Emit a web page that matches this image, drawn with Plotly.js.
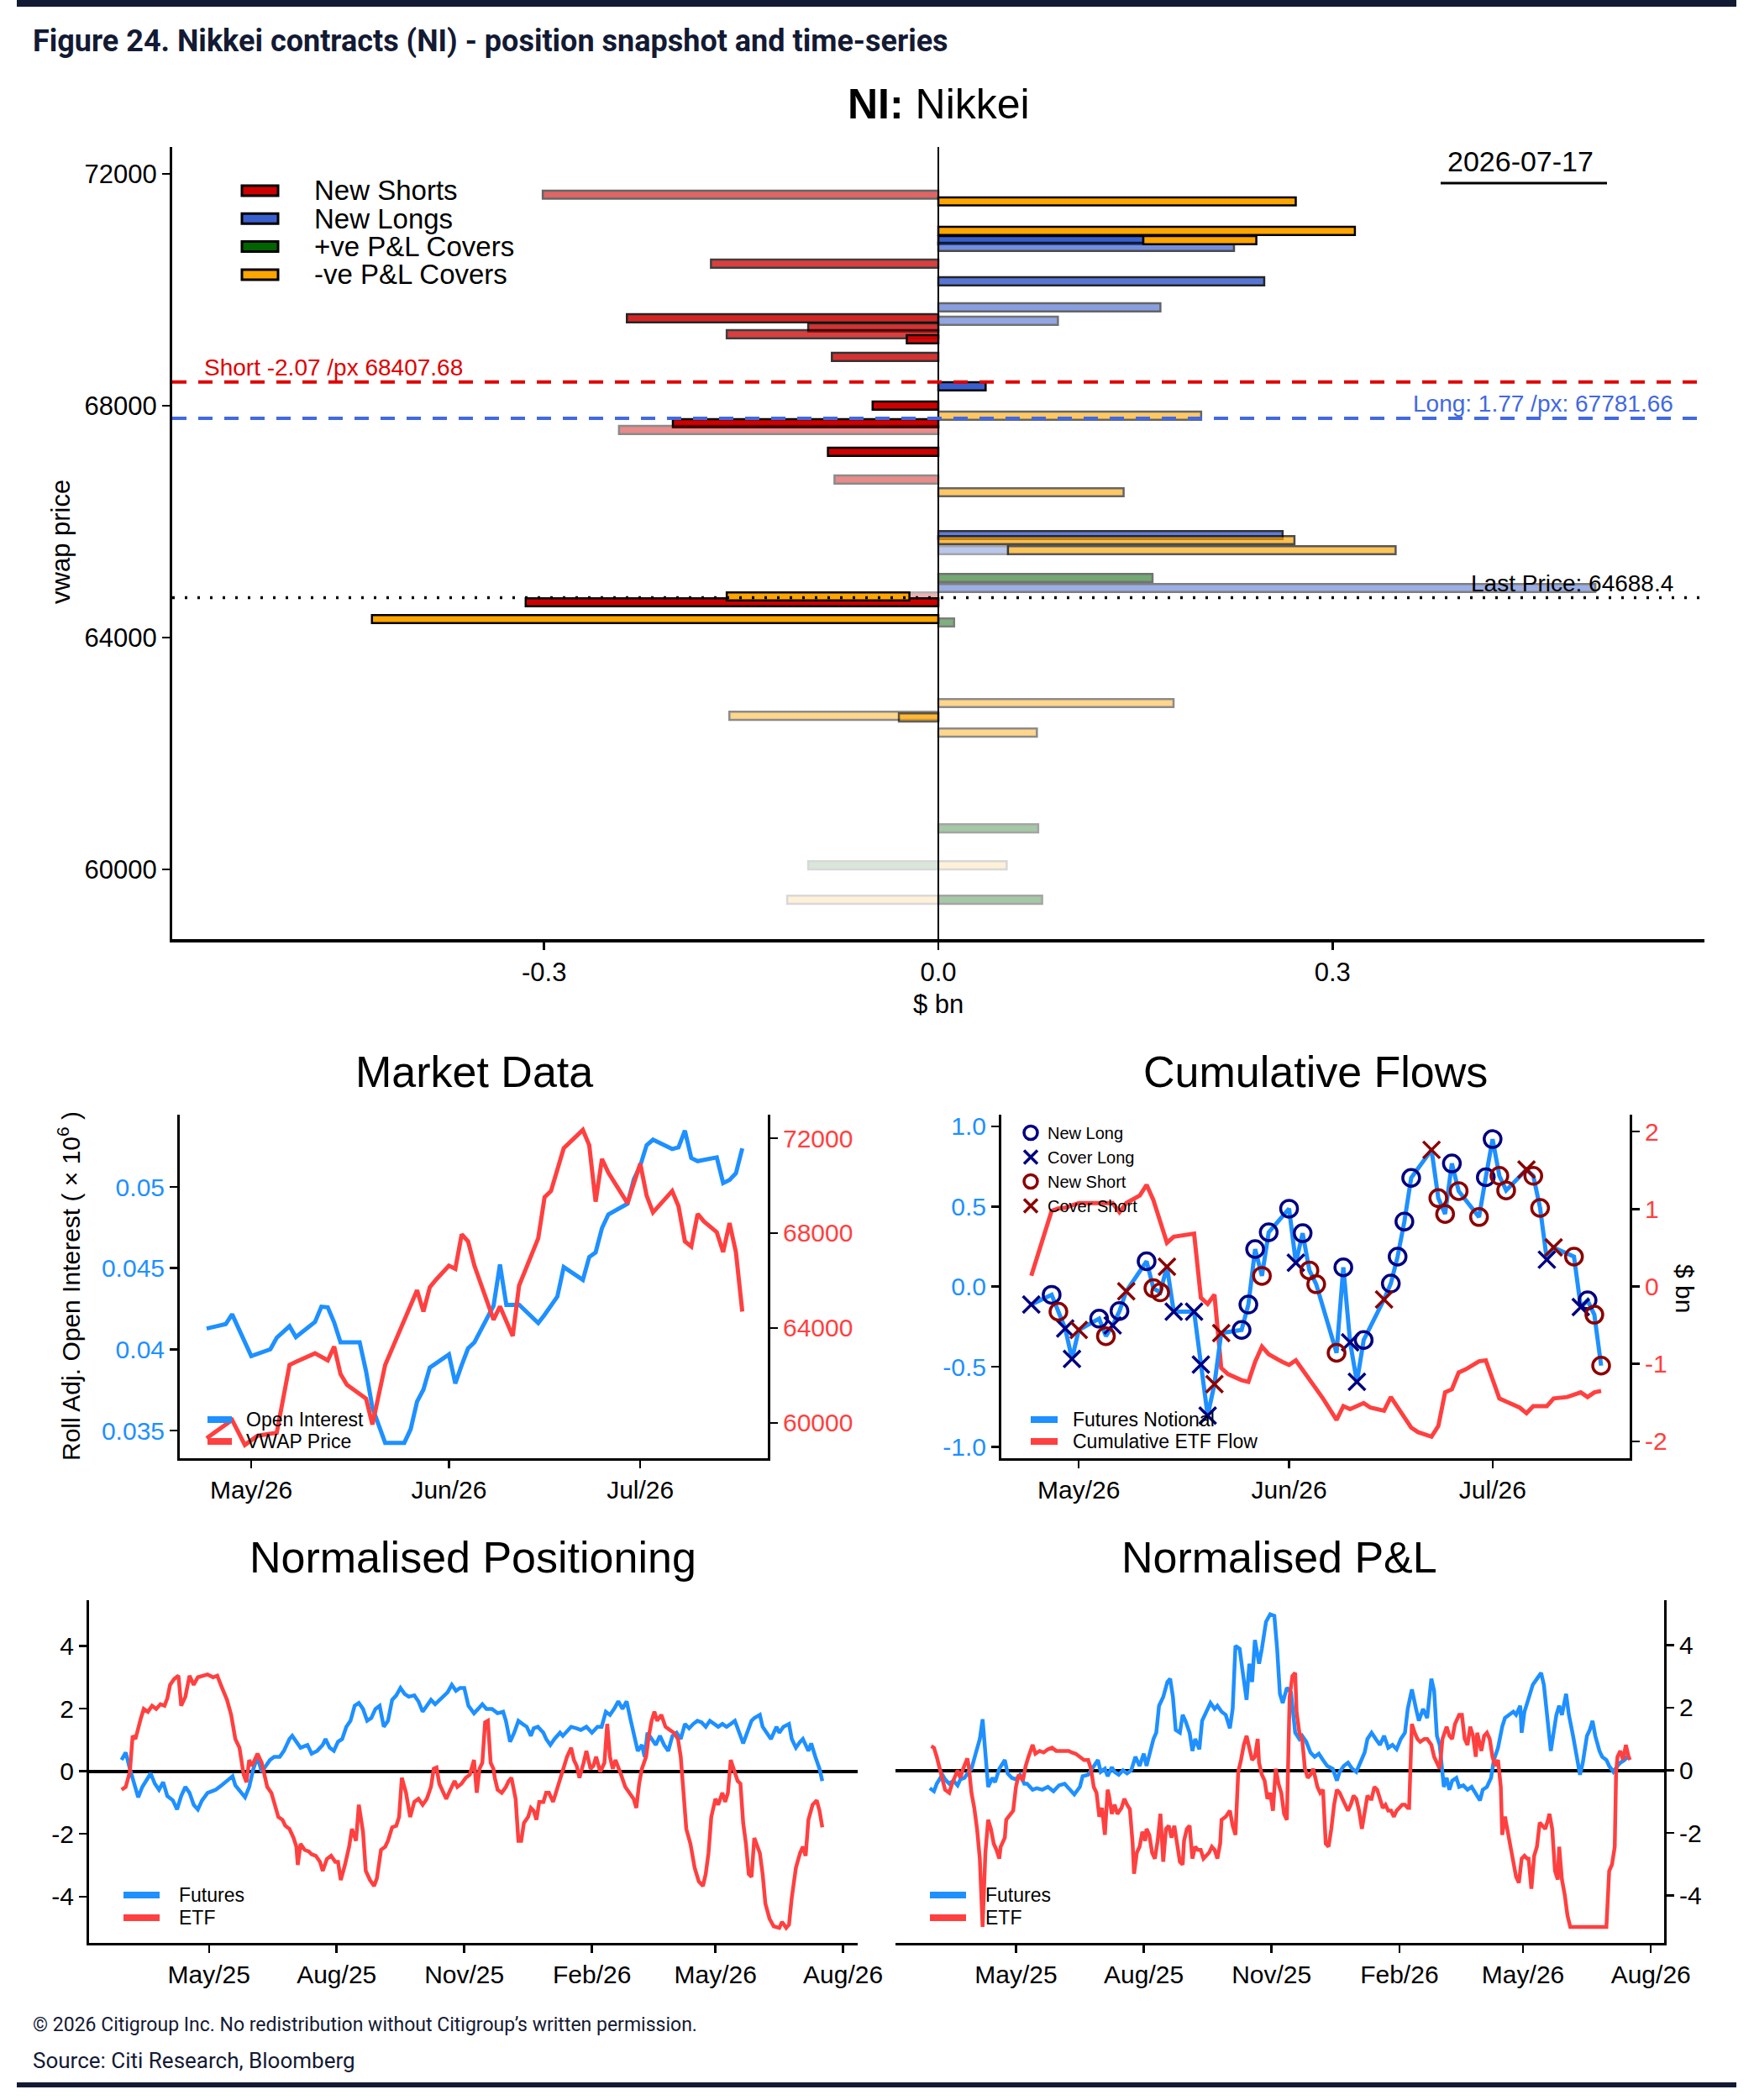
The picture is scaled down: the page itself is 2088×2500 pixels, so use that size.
<!DOCTYPE html>
<html><head><meta charset="utf-8">
<script src="https://cdn.plot.ly/plotly-3.0.1.min.js"></script>
<style>html,body{margin:0;padding:0;background:#fff}#chart{width:2088px;height:2500px}</style>
</head><body><div id="chart"></div>
<script>
// ---------------- DATA ----------------
// Position snapshot (NI: Nikkei)
const snapDate = '2026-07-17';
const shortSize = -2.07, shortPx = 68407.68;
const longSize = 1.77, longPx = 67781.66;
const lastPx = 64688.4;
const barCats = ['NS','NL','PC','NC'];
const barCatNames = ['New Shorts','New Longs','+ve P&amp;L Covers','-ve P&amp;L Covers'];
const barType  = ['NS','NS','NS','NS','NS','NS','NS','NS','NS','NS','NS','NS','NS','NS',
                  'NL','NL','NL','NL','NL','NL','NL','NL','NL',
                  'PC','PC','PC','PC','PC',
                  'NC','NC','NC','NC','NC','NC','NC','NC','NC','NC','NC','NC','NC','NC','NC'];
const barPrice = [71638,70449,69507,69348,69232,69145,68840,68000,67696,67580,67203,66725,64710,64609,
                  70855,70739,70145,69696,69464,68333,65768,65507,64855,
                  65029,64261,60710,60072,59478,
                  71522,71014,70855,67826,66507,65681,65507,64710,64319,62870,62652,62623,62362,60072,59478];
const barBase  = [0,0,0,0,0,0,0,0,0,0,0,0,0,0,
                  0,0,0,0,0,0,0,0,0,
                  0,0,0,0,0,
                  0,0,0.156,0,0,0,0.053,-0.022,0,0,0,0,0,0,0];
const barSize  = [-0.301,-0.173,-0.237,-0.099,-0.161,-0.024,-0.081,-0.050,-0.202,-0.243,-0.084,-0.079,-0.022,-0.314,
                  0.156,0.225,0.248,0.169,0.091,0.036,0.262,0.053,0.50,
                  0.163,0.012,0.076,-0.099,0.079,
                  0.272,0.317,0.086,0.200,0.141,0.271,0.295,-0.139,-0.431,0.179,-0.159,-0.030,0.075,0.052,-0.115];
const barAlpha = [0.6,0.75,0.85,0.8,0.75,0.95,0.8,1,1,0.45,1,0.45,0.3,1,
                  1,0.7,0.85,0.6,0.55,1,0.8,0.35,0.5,
                  0.55,0.5,0.35,0.15,0.35,
                  1,1,1,0.6,0.6,0.7,0.65,1,1,0.45,0.45,0.6,0.45,0.15,0.15];

// Market data
const oiDate = ['2026-04-24','2026-04-27','2026-04-28','2026-04-29','2026-05-01','2026-05-04','2026-05-05','2026-05-07','2026-05-08','2026-05-11','2026-05-12','2026-05-13','2026-05-14','2026-05-15','2026-05-18','2026-05-19','2026-05-20','2026-05-22','2026-05-25','2026-05-26','2026-05-27','2026-05-28','2026-05-29','2026-06-01','2026-06-02','2026-06-03','2026-06-04','2026-06-05','2026-06-07','2026-06-08','2026-06-09','2026-06-10','2026-06-12','2026-06-15','2026-06-16','2026-06-18','2026-06-19','2026-06-22','2026-06-23','2026-06-24','2026-06-25','2026-06-26','2026-06-29','2026-06-30','2026-07-01','2026-07-02','2026-07-03','2026-07-06','2026-07-07','2026-07-08','2026-07-09','2026-07-10','2026-07-13','2026-07-14','2026-07-15','2026-07-16','2026-07-17'];
const oiVal = [0.04128,0.04156,0.04216,0.04128,0.03959,0.04001,0.04072,0.04143,0.04076,0.04169,0.04263,0.04259,0.04166,0.04044,0.04044,0.03866,0.03641,0.03425,0.03425,0.03509,0.03678,0.03753,0.03888,0.03969,0.03791,0.03903,0.04006,0.04044,0.04203,0.04269,0.04522,0.04274,0.04275,0.04162,0.04213,0.04325,0.04507,0.04428,0.04569,0.04597,0.04747,0.04831,0.04897,0.05047,0.05131,0.05257,0.05291,0.05234,0.05244,0.05347,0.05178,0.05159,0.05182,0.05024,0.05043,0.05084,0.05238];
const vwapDate = ['2026-04-24','2026-04-28','2026-04-30','2026-05-02','2026-05-05','2026-05-07','2026-05-08','2026-05-11','2026-05-13','2026-05-14','2026-05-15','2026-05-16','2026-05-19','2026-05-20','2026-05-22','2026-05-24','2026-05-27','2026-05-28','2026-05-29','2026-05-30','2026-06-01','2026-06-02','2026-06-03','2026-06-04','2026-06-05','2026-06-08','2026-06-09','2026-06-11','2026-06-12','2026-06-15','2026-06-16','2026-06-17','2026-06-19','2026-06-22','2026-06-23','2026-06-24','2026-06-25','2026-06-26','2026-06-29','2026-07-01','2026-07-02','2026-07-03','2026-07-06','2026-07-07','2026-07-08','2026-07-09','2026-07-10','2026-07-11','2026-07-13','2026-07-14','2026-07-15','2026-07-16','2026-07-17'];
const vwapVal = [59357,60128,59074,59460,59588,62444,62572,62932,62636,63215,62058,61607,61029,59935,62444,63730,65595,64694,65723,66045,66624,66495,67948,67653,66624,64347,64913,63665,65788,67781,69518,69775,71576,72347,71704,69325,71125,70547,69260,70932,69582,68874,69775,69132,67653,67434,68810,68489,68038,67202,68424,67202,64694];

// Cumulative flows
const flowDate = ['2026-04-24','2026-04-27','2026-04-28','2026-04-29','2026-04-30','2026-05-01','2026-05-04','2026-05-05','2026-05-06','2026-05-07','2026-05-08','2026-05-11','2026-05-12','2026-05-13','2026-05-14','2026-05-15','2026-05-18','2026-05-19','2026-05-20','2026-05-21','2026-05-22','2026-05-25','2026-05-26','2026-05-27','2026-05-28','2026-05-29','2026-06-01','2026-06-02','2026-06-03','2026-06-04','2026-06-05','2026-06-08','2026-06-09','2026-06-10','2026-06-11','2026-06-12','2026-06-15','2026-06-16','2026-06-17','2026-06-18','2026-06-19','2026-06-22','2026-06-23','2026-06-24','2026-06-25','2026-06-26','2026-06-29','2026-06-30','2026-07-01','2026-07-02','2026-07-03','2026-07-06','2026-07-07','2026-07-08','2026-07-09','2026-07-10','2026-07-13','2026-07-14','2026-07-15','2026-07-16','2026-07-17'];
const flowVal = [-0.112,-0.051,-0.156,-0.261,-0.451,-0.27,-0.20,-0.309,-0.242,-0.152,-0.029,0.158,-0.01,-0.036,0.124,-0.156,-0.156,-0.486,-0.804,-0.608,-0.29,-0.27,-0.112,0.234,0.067,0.339,0.486,0.149,0.333,0.101,0.015,-0.413,0.12,-0.347,-0.594,-0.333,-0.08,0.019,0.187,0.406,0.678,0.853,0.552,0.453,0.768,0.596,0.434,0.682,0.92,0.691,0.60,0.73,0.691,0.491,0.168,0.244,0.187,-0.128,-0.086,-0.175,-0.493];
const flowType = ['CL','NL','NS','CL','CL','CS','NL','NS','CL','NL','CS','NL','NS','NS','CS','CL','CL','CL','CL','CS','CS','NL','NL','NL','NS','NL','NL','CL','NL','NS','NS','NS','NL','CL','CL','NL','CS','NL','NL','NL','NL','CS','NS','NS','NL','NS','NS','NL','NL','NS','NS','CS','NS','NS','CL','CS','NS','CL','NL','NS','NS'];
const etfDate = ['2026-04-24','2026-04-27','2026-04-28','2026-04-29','2026-05-01','2026-05-04','2026-05-06','2026-05-07','2026-05-08','2026-05-10','2026-05-11','2026-05-12','2026-05-14','2026-05-15','2026-05-18','2026-05-19','2026-05-20','2026-05-21','2026-05-22','2026-05-23','2026-05-25','2026-05-26','2026-05-27','2026-05-28','2026-05-29','2026-05-31','2026-06-01','2026-06-02','2026-06-04','2026-06-06','2026-06-08','2026-06-09','2026-06-10','2026-06-12','2026-06-13','2026-06-15','2026-06-16','2026-06-17','2026-06-19','2026-06-20','2026-06-22','2026-06-23','2026-06-24','2026-06-25','2026-06-26','2026-06-27','2026-06-29','2026-06-30','2026-07-01','2026-07-02','2026-07-03','2026-07-05','2026-07-06','2026-07-07','2026-07-09','2026-07-10','2026-07-12','2026-07-13','2026-07-14','2026-07-15','2026-07-16','2026-07-17'];
const etfVal = [0.138,0.977,1.005,1.017,1.076,1.076,1.076,0.958,1.076,1.174,1.312,1.115,0.564,0.642,0.682,-0.146,-0.225,-0.106,-1.052,-1.131,-1.21,-1.23,-0.973,-0.776,-0.875,-0.973,-1.013,-0.954,-1.19,-1.446,-1.722,-1.545,-1.584,-1.505,-1.564,-1.604,-1.427,-1.564,-1.821,-1.88,-1.939,-1.801,-1.367,-1.328,-1.111,-1.072,-0.966,-0.954,-1.21,-1.446,-1.486,-1.564,-1.635,-1.545,-1.545,-1.446,-1.427,-1.399,-1.367,-1.427,-1.367,-1.348];

// Normalised positioning / P&L : day offsets from 2025-05-01
const dayZero = '2025-05-01';
const posDayF = [-63,-60,-57,-54,-51,-48,-45,-42,-39,-36,-33,-30,-26,-23,-20,-17,-14,-11,-8,-5,-1,5,9,13,17,19,23,26,29,32,35,38,41,44,47,51,54,58,60,63,66,71,74,78,82,84,87,90,93,96,99,102,105,108,111,114,117,120,123,126,129,132,135,138,141,144,148,151,154,157,160,163,166,169,172,175,178,181,184,187,191,194,197,200,204,208,212,214,217,220,223,226,229,232,234,237,241,243,246,249,253,255,259,261,265,268,272,276,280,283,286,289,292,295,298,301,304,307,309,312,314,316,319,322,325,328,331,334,337,340,343,346,349,352,355,358,361,364,367,370,373,376,379,381,385,387,391,393,397,399,403,405,409,411,414,418,420,423,426,428,432,434,437,440,442];
const posFut = [0.36,0.60,0.08,-0.40,-0.83,-0.50,-0.31,-0.07,-0.40,-0.59,-0.35,-0.79,-0.93,-1.22,-0.79,-0.50,-0.69,-1.07,-1.22,-0.93,-0.69,-0.59,-0.45,-0.31,-0.16,-0.45,-0.69,-0.83,-0.50,0.08,0.46,-0.02,0.17,0.36,0.46,0.46,0.65,1.03,1.13,0.94,0.75,0.84,0.56,0.65,0.84,1.03,0.75,0.65,0.94,1.03,1.42,1.61,2.09,2.18,1.99,1.61,1.70,1.99,2.09,1.42,1.61,2.28,2.42,2.66,2.47,2.38,2.42,2.23,1.90,2.09,2.28,2.14,2.28,2.42,2.52,2.76,2.57,2.66,2.66,2.09,1.85,1.99,2.14,1.99,1.99,1.85,1.90,1.61,0.94,1.23,1.61,1.51,1.42,1.13,1.37,1.42,1.23,1.03,0.84,1.03,1.23,1.13,1.32,1.42,1.37,1.32,1.42,1.23,1.42,1.42,1.90,1.80,1.99,2.23,1.99,2.23,1.61,1.03,0.65,0.84,0.46,1.23,1.03,0.84,1.13,0.84,0.65,1.13,1.23,1.03,1.51,1.37,1.51,1.61,1.56,1.42,1.61,1.51,1.42,1.51,1.42,1.51,1.61,1.37,0.89,1.13,1.61,1.70,1.80,1.42,1.13,1.03,1.42,1.23,1.42,1.51,1.03,0.75,0.94,1.03,0.65,0.89,0.46,0.08,-0.31];
const posDayE = [-63,-60,-57,-55,-53,-51,-49,-47,-44,-41,-38,-35,-32,-30,-28,-25,-22,-20,-17,-14,-11,-8,-5,-1,3,6,9,13,16,19,22,25,27,29,31,35,38,39,42,45,47,50,53,55,58,61,63,64,66,69,72,74,77,80,82,85,88,91,93,95,98,101,103,106,108,111,113,116,119,121,124,127,129,132,135,137,139,142,145,148,151,154,157,160,162,164,166,169,171,174,177,179,182,185,188,191,193,195,197,199,201,203,205,206,208,211,214,216,218,221,223,225,227,230,232,234,236,238,241,243,245,248,250,253,255,258,261,263,265,267,270,272,275,277,279,282,285,287,289,291,293,295,297,300,303,306,308,310,312,315,317,319,321,323,326,329,332,335,338,340,342,344,347,350,353,356,358,360,362,365,367,370,372,374,376,378,381,383,385,387,389,391,393,397,399,401,404,407,411,413,416,418,420,423,426,428,430,432,435,438,440,442];
const posEtf = [-0.59,-0.50,-0.02,1.13,1.03,1.42,1.70,1.99,1.90,2.09,1.99,2.14,2.09,2.33,2.76,2.95,3.05,2.09,2.38,3.05,2.76,3.00,3.05,3.09,3.00,3.05,2.71,2.28,1.80,1.03,0.75,-0.11,-0.35,0.36,0.17,0.56,0.27,0.08,-0.50,-0.69,-0.98,-1.46,-1.55,-1.74,-1.84,-2.13,-2.41,-2.99,-2.32,-2.51,-2.56,-2.65,-2.70,-2.89,-3.18,-2.80,-2.70,-2.89,-2.89,-3.47,-2.99,-2.41,-1.84,-2.22,-1.07,-1.93,-3.18,-3.47,-3.66,-3.42,-2.51,-2.41,-2.22,-1.79,-1.74,-1.46,-0.21,-0.69,-1.46,-0.98,-0.88,-1.07,-0.88,-0.50,0.08,0.12,-0.40,-0.69,-0.88,-0.59,-0.31,-0.50,-0.40,-0.21,-0.11,0.36,-0.69,0.08,0.27,1.56,1.61,0.27,0.08,-0.21,-0.59,-0.69,-0.50,-0.31,-0.21,-0.88,-2.22,-2.22,-1.65,-1.46,-1.17,-1.26,-1.55,-0.98,-0.98,-0.69,-0.69,-0.98,-0.69,-0.21,-0.02,0.46,0.75,0.36,0.17,-0.21,0.27,0.65,0.08,0.17,0.46,-0.02,0.27,1.51,0.46,0.08,0.36,0.08,-0.11,-0.50,-0.69,-0.88,-1.17,-0.40,0.08,0.46,1.13,1.61,1.90,1.61,1.80,1.42,1.32,1.23,1.03,0.46,-0.69,-1.84,-2.32,-3.08,-3.52,-3.66,-3.28,-2.61,-1.46,-0.88,-1.07,-0.69,-0.98,-0.69,0.36,0.08,-0.31,-0.40,-1.65,-2.32,-3.28,-3.37,-2.13,-2.61,-3.28,-4.23,-4.71,-4.95,-5.00,-4.81,-5.00,-4.90,-4.04,-3.08,-2.61,-2.41,-2.70,-1.55,-1.07,-0.93,-1.26,-1.79];
const pnlDayF = [-62,-59,-57,-53,-51,-48,-45,-42,-40,-37,-35,-32,-29,-26,-24,-22,-20,-17,-15,-12,-8,-6,-3,0,3,6,8,12,15,19,23,27,31,35,39,42,46,48,52,56,59,61,64,66,69,71,74,77,80,83,86,89,92,94,97,99,101,103,106,109,111,113,115,118,120,122,125,127,129,132,134,137,140,143,145,148,151,154,156,158,161,163,166,168,170,172,175,177,180,183,186,188,190,192,195,198,201,204,206,209,212,215,218,221,224,228,231,233,236,239,242,245,248,251,253,256,259,262,265,268,271,274,277,280,282,285,288,290,293,296,299,301,303,305,308,310,312,314,317,319,322,325,328,331,334,336,339,342,344,347,350,352,355,358,360,363,364,366,368,370,372,375,378,380,383,385,387,389,391,393,396,398,401,404,406,408,411,413,415,417,420,422,425,427,430,433,435,438,440,442];
const pnlFut = [-0.57,-0.67,-0.43,-0.14,-0.29,-0.43,-0.33,-0.48,-0.29,-0.24,-0.10,0.05,0.53,1.00,1.63,0.53,-0.53,-0.24,-0.38,0.05,0.33,-0.10,-0.24,-0.29,-0.14,-0.43,-0.43,-0.62,-0.57,-0.62,-0.53,-0.67,-0.48,-0.43,-0.62,-0.77,-0.53,-0.19,-0.14,0.10,0.33,-0.05,0.05,-0.19,0.10,-0.05,-0.14,0.00,-0.10,0.00,0.43,0.14,0.53,0.14,0.62,1.00,1.20,2.06,2.34,2.82,2.92,2.34,1.29,1.20,1.77,1.58,1.20,0.62,1.00,0.67,1.58,1.87,2.15,1.96,2.06,1.87,1.77,1.34,1.96,3.97,3.88,3.21,2.25,3.40,2.82,4.16,3.40,3.88,4.74,4.98,4.93,3.88,2.44,2.15,2.63,2.49,1.20,1.00,1.10,0.91,0.57,0.43,0.53,0.33,0.14,0.05,-0.33,-0.05,0.14,0.24,0.05,-0.05,0.24,0.57,1.00,1.20,1.00,0.81,1.10,0.72,0.81,0.67,1.00,1.20,1.96,2.58,1.96,1.58,1.96,1.67,2.92,2.54,1.10,0.81,-0.53,-0.24,-0.62,-0.33,-0.24,-0.53,-0.48,-0.62,-0.53,-0.72,-0.96,-0.62,-0.53,-0.24,0.33,0.72,1.39,1.67,1.77,1.87,1.77,2.06,1.20,1.87,2.15,2.44,2.73,2.92,3.11,2.73,1.58,0.62,1.20,1.77,2.06,1.77,2.44,1.77,1.10,0.43,-0.14,0.24,1.10,1.29,1.58,1.10,0.62,0.43,0.33,0.14,-0.05,0.14,0.24,0.33,0.43,0.38];
const pnlDayE = [-61,-59,-57,-54,-51,-48,-46,-42,-40,-38,-35,-34,-32,-30,-28,-26,-24,-22,-20,-18,-16,-14,-12,-11,-8,-7,-5,-2,0,2,5,7,9,12,14,17,20,23,26,29,32,35,38,40,43,46,49,52,54,56,58,60,62,64,66,67,69,71,73,76,78,80,82,84,85,87,89,91,93,94,96,98,100,102,104,106,108,110,112,114,116,118,120,121,123,125,127,129,131,133,135,137,139,141,143,145,147,148,151,154,156,158,160,162,164,166,168,170,172,174,175,177,179,181,183,185,187,189,191,193,195,197,199,201,202,204,206,208,210,212,214,217,219,221,223,225,227,229,231,233,235,237,239,241,243,245,247,249,251,253,255,256,258,260,262,264,266,268,270,272,274,276,278,280,282,283,285,287,289,291,294,296,299,301,303,305,307,309,310,312,314,316,319,321,323,325,327,329,331,332,335,337,339,341,343,345,347,349,350,352,354,356,358,360,362,364,366,368,369,371,373,375,377,379,381,383,384,386,388,390,391,393,395,397,399,405,413,420,425,427,429,431,432,433,435,437,439,441,442];
const pnlEtf = [0.77,0.72,0.43,-0.14,-0.62,-0.72,-0.43,0.00,-0.24,0.05,0.38,0.14,-0.72,-1.20,-1.87,-2.82,-5.00,-2.63,-1.58,-1.87,-2.34,-2.54,-2.82,-2.44,-2.15,-1.58,-1.48,-1.29,-0.53,-0.14,-0.33,0.14,0.43,0.81,0.53,0.62,0.57,0.67,0.72,0.62,0.62,0.62,0.62,0.57,0.53,0.43,0.33,0.33,0.05,-0.53,-0.72,-1.48,-1.20,-2.06,-0.62,-0.81,-1.39,-1.10,-1.39,-1.20,-0.91,-1.10,-1.24,-2.34,-3.30,-2.63,-2.44,-1.96,-2.25,-1.87,-2.06,-2.63,-2.82,-2.25,-1.39,-2.92,-1.87,-1.77,-2.15,-1.77,-2.44,-2.92,-3.01,-2.25,-1.87,-1.77,-2.82,-2.44,-2.54,-2.54,-2.82,-2.73,-2.63,-2.44,-2.54,-2.82,-2.34,-1.58,-1.48,-1.29,-1.77,-2.06,-0.05,0.33,0.81,1.10,0.72,0.33,0.43,1.00,0.24,-0.14,-0.33,-0.91,-0.72,-1.29,0.05,-0.43,-0.72,-1.39,-1.58,2.34,3.01,3.11,1.87,1.20,1.00,0.05,-0.24,-0.14,0.05,-0.53,-0.72,-0.62,-2.34,-2.44,-1.87,-1.10,-0.62,-0.72,-0.91,-1.10,-1.29,-1.10,-0.81,-0.91,-1.29,-1.87,-1.29,-0.81,-0.91,-0.91,-0.53,-0.62,-0.91,-1.20,-1.10,-1.29,-1.29,-1.48,-1.29,-1.20,-1.10,-1.10,-1.20,-1.20,1.48,1.20,1.00,0.91,1.00,1.00,0.81,0.43,0.24,0.05,1.00,1.29,1.39,1.10,1.00,1.48,1.77,1.77,1.00,0.81,1.39,1.10,0.43,1.20,0.62,1.10,1.20,1.00,0.43,0.14,0.33,-0.53,-2.06,-1.48,-1.96,-2.44,-2.82,-3.40,-3.59,-2.82,-2.73,-2.82,-2.82,-3.78,-2.73,-2.44,-1.67,-1.77,-1.87,-1.58,-1.39,-1.87,-3.21,-3.49,-2.44,-3.49,-3.97,-4.64,-5.00,-5.00,-5.00,-5.00,-5.00,-3.21,-3.01,-2.44,-0.05,0.43,0.62,0.33,0.81,0.43,0.33];

// ---------------- STYLE / LAYOUT HELPERS ----------------
const W = 2088, H = 2500;
const PX = p => p / W;          // pixel x -> paper
const PY = p => 1 - p / H;      // pixel y -> paper
const BLUE = '#1E90FF', RED = '#FF4040', NAVY = '#000080', DARKRED = '#8B0000';
const barColors = {NS:'#CD0000', NL:'#3A5FCD', PC:'#006400', NC:'#FFA500'};
const FONT = 'Liberation Sans, Arial, sans-serif';
const HEADFONT = 'Roboto, Open Sans, sans-serif';
const INK = '#131A33';

function toDates(days){
  const b = Date.parse(dayZero + 'T00:00:00Z');
  return days.map(d => new Date(b + d*86400000).toISOString().slice(0,10));
}
const fmt = (vals, d) => vals.map(v => v.toFixed(d));

const traces = [];
// Bars
barCats.forEach(cat => {
  const idx = barType.map((t,i) => t===cat ? i : -1).filter(i => i>=0);
  traces.push({
    type:'bar', orientation:'h', xaxis:'x', yaxis:'y',
    y: idx.map(i=>barPrice[i]), x: idx.map(i=>barSize[i]), base: idx.map(i=>barBase[i]),
    width: 140,
    marker:{color: barColors[cat], opacity: idx.map(i=>barAlpha[i]), line:{color:'#000', width:2.5}},
    showlegend:false, hoverinfo:'skip'
  });
});
// Market data
traces.push({x:oiDate, y:oiVal, xaxis:'x2', yaxis:'y2', mode:'lines', line:{color:BLUE, width:5}, showlegend:false});
traces.push({x:vwapDate, y:vwapVal, xaxis:'x2', yaxis:'y3', mode:'lines', line:{color:RED, width:5}, showlegend:false});
// Cumulative flows (ETF on base axis y4 (right), futures on overlay y5 (left))
traces.push({x:etfDate, y:etfVal, xaxis:'x3', yaxis:'y4', mode:'lines', line:{color:RED, width:5}, showlegend:false});
traces.push({x:flowDate, y:flowVal, xaxis:'x3', yaxis:'y5', mode:'lines', line:{color:BLUE, width:5}, showlegend:false});
[['NL','New Long','circle-open',NAVY],['CL','Cover Long','x-thin-open',NAVY],
 ['NS','New Short','circle-open',DARKRED],['CS','Cover Short','x-thin-open',DARKRED]].forEach(([code,name,sym,col]) => {
  const idx = flowType.map((t,i)=> t===code ? i : -1).filter(i=>i>=0);
  traces.push({x: idx.map(i=>flowDate[i]), y: idx.map(i=>flowVal[i]), xaxis:'x3', yaxis:'y5',
    mode:'markers', name:name, marker:{symbol:sym, size:20, color:col, line:{color:col, width:3.5}}, showlegend:true});
});
// Positioning
traces.push({x:toDates(posDayF), y:posFut, xaxis:'x4', yaxis:'y6', mode:'lines', line:{color:BLUE, width:4.5}, showlegend:false});
traces.push({x:toDates(posDayE), y:posEtf, xaxis:'x4', yaxis:'y6', mode:'lines', line:{color:RED, width:4.5}, showlegend:false});
// P&L
traces.push({x:toDates(pnlDayF), y:pnlFut, xaxis:'x5', yaxis:'y7', mode:'lines', line:{color:BLUE, width:4.5}, showlegend:false});
traces.push({x:toDates(pnlDayE), y:pnlEtf, xaxis:'x5', yaxis:'y7', mode:'lines', line:{color:RED, width:4.5}, showlegend:false});

const axBase = {showgrid:false, zeroline:false, showline:true, linecolor:'#000', linewidth:3,
  ticks:'outside', ticklen:9, tickwidth:2.5, tickcolor:'#000', tickfont:{size:30, color:'#000'}, fixedrange:true};

const topY = [60000,64000,68000,72000];
const mdL = [0.035,0.04,0.045,0.05];
const mdR = [60000,64000,68000,72000];
const cfL = [-1,-0.5,0,0.5,1];
const cfR = [-2,-1,0,1,2];
const npT = [-4,-2,0,2,4];

const layout = {
  width:W, height:H, margin:{l:0,r:0,t:0,b:0}, paper_bgcolor:'#fff', plot_bgcolor:'rgba(0,0,0,0)',
  font:{family:FONT, size:30, color:'#000'}, barmode:'overlay', hovermode:false,
  xaxis: Object.assign({}, axBase, {domain:[PX(205),PX(2029)], anchor:'y', range:[-0.583,0.583],
    tickvals:[-0.3,0,0.3], ticktext:fmt([-0.3,0,0.3],1), linewidth:4, tickfont:{size:31},
    zeroline:true, zerolinecolor:'#000', zerolinewidth:2.5}),
  yaxis: Object.assign({}, axBase, {domain:[PY(1118),PY(175)], anchor:'x', range:[58800,72460],
    tickvals:topY, ticktext:topY.map(String), tickfont:{size:31}}),
  xaxis2: Object.assign({}, axBase, {domain:[PX(214),PX(914)], anchor:'y2', type:'date',
    range:['2026-04-19 19:00','2026-07-21 00:00'], tick0:'2026-05-01', dtick:'M1', tickformat:'%b/%y'}),
  yaxis2: Object.assign({}, axBase, {domain:[PY(1736),PY(1327)], anchor:'x2', range:[0.0333,0.05445],
    tickvals:mdL, ticktext:mdL.map(String), tickfont:{size:30, color:BLUE}}),
  yaxis3: Object.assign({}, axBase, {overlaying:'y2', side:'right', anchor:'x2', range:[58513,72991],
    tickvals:mdR, ticktext:mdR.map(String), tickfont:{size:30, color:RED}}),
  xaxis3: Object.assign({}, axBase, {domain:[PX(1192),PX(1940)], anchor:'y4', type:'date',
    range:['2026-04-19 14:00','2026-07-21 05:00'], tick0:'2026-05-01', dtick:'M1', tickformat:'%b/%y'}),
  yaxis4: Object.assign({}, axBase, {domain:[PY(1736),PY(1327)], anchor:'x3', side:'right', range:[-2.217,2.217],
    tickvals:cfR, ticktext:cfR.map(String), tickfont:{size:30, color:RED}}),
  yaxis5: Object.assign({}, axBase, {overlaying:'y4', side:'left', anchor:'x3', range:[-1.0705,1.0724],
    tickvals:cfL, ticktext:fmt(cfL,1), tickfont:{size:30, color:BLUE}}),
  xaxis4: Object.assign({}, axBase, {domain:[PX(106),PX(1021)], anchor:'y6', type:'date',
    range:['2025-02-03 14:00','2026-08-11 12:00'], tick0:'2025-05-01', dtick:'M3', tickformat:'%b/%y'}),
  yaxis6: Object.assign({}, axBase, {domain:[PY(2313),PY(1905)], anchor:'x4', range:[-5.48,5.46],
    tickvals:npT, ticktext:npT.map(String), zeroline:true, zerolinecolor:'#000', zerolinewidth:4}),
  xaxis5: Object.assign({}, axBase, {domain:[PX(1066),PX(1981)], anchor:'y7', type:'date',
    range:['2025-02-03 07:00','2026-08-10 13:00'], tick0:'2025-05-01', dtick:'M3', tickformat:'%b/%y'}),
  yaxis7: Object.assign({}, axBase, {domain:[PY(2313),PY(1905)], anchor:'x5', side:'right', range:[-5.51,5.43],
    tickvals:npT, ticktext:npT.map(String), zeroline:true, zerolinecolor:'#000', zerolinewidth:4}),
  showlegend:true,
  legend:{x:PX(1207), y:PY(1329), xanchor:'left', yanchor:'top', bgcolor:'rgba(0,0,0,0)', borderwidth:0,
    font:{size:20, color:'#000'}, itemwidth:30, tracegroupgap:0},
  shapes:[], annotations:[]
};

const S = layout.shapes, A = layout.annotations;
function txt(text, x, y, size, opts){
  A.push(Object.assign({text:text, x:PX(x), y:PY(y), xref:'paper', yref:'paper', showarrow:false,
    xanchor:'center', yanchor:'middle', font:{size:size, color:'#000'}}, opts||{}));
}
function keyLine(x0,x1,y,color,w){
  S.push({type:'line', xref:'paper', yref:'paper', x0:PX(x0), x1:PX(x1), y0:PY(y), y1:PY(y), line:{color:color, width:w}});
}

// header / footer
S.push({type:'rect', xref:'paper', yref:'paper', x0:PX(20), x1:PX(2067), y0:PY(8), y1:PY(0), fillcolor:INK, line:{width:0}});
S.push({type:'rect', xref:'paper', yref:'paper', x0:PX(20), x1:PX(2067), y0:PY(2485), y1:PY(2479), fillcolor:INK, line:{width:0}});
txt('Figure 24. Nikkei contracts (NI) - position snapshot and time-series', 37, 49, 36,
  {xanchor:'left', font:{family:HEADFONT, size:36, color:INK, weight:700}});
txt('© 2026 Citigroup Inc. No redistribution without Citigroup’s written permission.', 37, 2410, 23,
  {xanchor:'left', font:{family:HEADFONT, size:23, color:INK}});
txt('Source: Citi Research, Bloomberg', 37, 2453, 26,
  {xanchor:'left', font:{family:HEADFONT, size:26, color:INK}});

// top chart titles & labels
txt('<b>NI:</b> Nikkei', 1117, 124, 50);
txt(snapDate, 1810, 192, 34);
S.push({type:'line', xref:'paper', yref:'paper', x0:PX(1715), x1:PX(1913), y0:PY(218), y1:PY(218), line:{color:'#000', width:3}});
txt('vwap price', 72, 645, 31, {textangle:-90});
txt('$ bn', 1117, 1195, 31);
// bar legend
barCats.forEach((cat,k) => {
  const yc = 227 + k*33.3;
  S.push({type:'rect', xref:'paper', yref:'paper', x0:PX(288), x1:PX(331), y0:PY(yc+6), y1:PY(yc-6),
    fillcolor:barColors[cat], line:{color:'#000', width:3}});
  txt(barCatNames[k], 372, yc, 33, {xanchor:'left'});
});
// reference lines
S.push({type:'line', xref:'x domain', yref:'y', x0:0, x1:1, y0:shortPx, y1:shortPx, line:{color:'#E00000', width:4, dash:'17px,14px'}});
S.push({type:'line', xref:'x domain', yref:'y', x0:0, x1:1, y0:longPx, y1:longPx, line:{color:'#4169E1', width:4, dash:'17px,14px'}});
S.push({type:'line', xref:'x domain', yref:'y', x0:0, x1:1, y0:lastPx, y1:lastPx, line:{color:'#000', width:3.5, dash:'3px,12px'}});
A.push({text:'Short ' + shortSize.toFixed(2) + ' /px ' + shortPx.toFixed(2), xref:'paper', yref:'y', x:PX(241), y:shortPx,
  xanchor:'left', yanchor:'bottom', showarrow:false, font:{size:28, color:'#E00000'}});
A.push({text:'Long: ' + longSize.toFixed(2) + ' /px: ' + longPx.toFixed(2), xref:'paper', yref:'y', x:PX(1994), y:longPx,
  xanchor:'right', yanchor:'bottom', showarrow:false, font:{size:28, color:'#4169E1'}});
A.push({text:'Last Price: ' + lastPx, xref:'paper', yref:'y', x:PX(1994), y:lastPx,
  xanchor:'right', yanchor:'bottom', showarrow:false, font:{size:28, color:'#000'}});

// Market data
txt('Market Data', 564, 1276, 52);
txt('Roll Adj. Open Interest ( × 10<sup>6</sup> )', 82, 1531, 30, {textangle:-90});
keyLine(247,276,1690,BLUE,8); keyLine(247,276,1716,RED,8);
txt('Open Interest', 291, 1690, 23, {xanchor:'left'});
txt('VWAP Price', 291, 1716, 23, {xanchor:'left'});

// Cumulative flows
txt('Cumulative Flows', 1566, 1276, 52);
txt('$ bn', 2006, 1534, 30, {textangle:90});
keyLine(1227,1259,1690,BLUE,8); keyLine(1227,1259,1716,RED,8);
txt('Futures Notional', 1275, 1690, 23, {xanchor:'left'});
txt('Cumulative ETF Flow', 1275, 1716, 23, {xanchor:'left'});

// Normalised positioning / P&L
txt('Normalised Positioning', 563, 1854, 52);
txt('Normalised P&amp;L', 1523, 1854, 52);
keyLine(147,190,2256,BLUE,8); keyLine(147,190,2283,RED,8);
txt('Futures', 211, 2256, 23, {xanchor:'left'});
txt('ETF', 211, 2283, 23, {xanchor:'left'});
keyLine(1107,1150,2256,BLUE,8); keyLine(1107,1150,2283,RED,8);
txt('Futures', 1171, 2256, 23, {xanchor:'left'});
txt('ETF', 1171, 2283, 23, {xanchor:'left'});

Plotly.newPlot('chart', traces, layout, {displayModeBar:false, staticPlot:true});
</script></body></html>
